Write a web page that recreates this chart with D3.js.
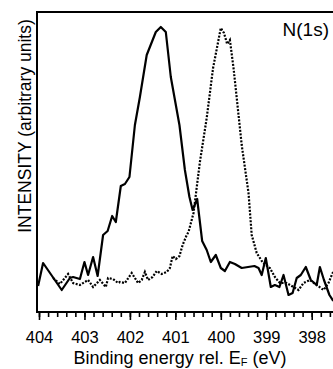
<!DOCTYPE html>
<html>
<head>
<meta charset="utf-8">
<script src="https://cdn.jsdelivr.net/npm/d3@7"></script>
<style>
  body { margin: 0; background: #fff; }
  text { font-family: "Liberation Sans", Arial, sans-serif; fill: #000; }
</style>
</head>
<body>
<svg id="chart" width="333" height="369"></svg>
<script>
// binding energy (eV) and intensity (arbitrary units)
var solidE = [404.02, 403.91, 403.50, 403.32, 403.25, 403.10, 403.00, 402.92, 402.81, 402.71,
  402.59, 402.49, 402.39, 402.31, 402.20, 402.11, 402.01, 401.89, 401.78, 401.63,
  401.43, 401.32, 401.21, 401.10, 400.91, 400.79, 400.69, 400.62, 400.52, 400.41,
  400.31, 400.22, 400.11, 400.00, 399.91, 399.80, 399.69, 399.54, 399.40, 399.26,
  399.17, 399.10, 399.01, 398.90, 398.81, 398.71, 398.62, 398.51, 398.42, 398.33,
  398.24, 398.13, 398.02, 397.89, 397.82, 397.73, 397.61, 397.54, 397.38];
var solidI = [26, 49, 22, 34, 35, 33, 50, 37, 55, 36,
  77, 81, 96, 90, 126, 128, 135, 187, 215, 257,
  280, 285, 280, 235, 187, 142, 115, 102, 113, 71,
  62, 50, 57, 44, 41, 50, 48, 44, 45, 46,
  44, 37, 54, 25, 27, 25, 37, 17, 19, 34,
  37, 45, 32, 27, 45, 32, 17, 12, 7];

var dotE = [403.69, 403.54, 403.36, 403.25, 403.10, 402.92, 402.81, 402.66, 402.53, 402.48,
  402.37, 402.26, 402.22, 402.11, 401.96, 401.82, 401.74, 401.67, 401.60, 401.50,
  401.41, 401.30, 401.19, 401.12, 401.06, 400.99, 400.91, 400.84, 400.75, 400.71,
  400.60, 400.46, 400.31, 400.17, 400.00, 399.93, 399.86, 399.80, 399.72, 399.64,
  399.54, 399.39, 399.32, 399.21, 399.07, 398.92, 398.81, 398.70, 398.55, 398.40,
  398.29, 398.18, 398.04, 397.89, 397.74, 397.63, 397.54, 397.38];
var dotI = [34, 28, 38, 29, 27, 32, 25, 32, 25, 34,
  33, 29, 30, 29, 39, 29, 32, 40, 32, 35,
  41, 38, 40, 44, 56, 53, 56, 67, 77, 80,
  99, 150, 194, 244, 284, 279, 268, 272, 244, 210,
  167, 119, 77, 59, 49, 44, 35, 29, 29, 25,
  22, 29, 32, 27, 22, 29, 39, 47];

var majorTicks = [404, 403, 402, 401, 400, 399, 398];
var minorTicks = d3.range(0, 34).map(function(i) { return +(404 - i * 0.2).toFixed(1); });

var svg = d3.select("#chart");

var x = d3.scaleLinear().domain([404, 398]).range([39, 311.7]);
var y = d3.scaleLinear().domain([0, 300]).range([312, 12]);

var solid = solidE.map(function(e, i) { return [e, solidI[i]]; });
var dotted = dotE.map(function(e, i) { return [e, dotI[i]]; });

var line = d3.line()
  .x(function(d) { return x(d[0]); })
  .y(function(d) { return y(d[1]); });

svg.append("path")
  .datum(dotted)
  .attr("d", line)
  .attr("fill", "none")
  .attr("stroke", "#000")
  .attr("stroke-width", 2.2)
  .attr("stroke-dasharray", "2,1.5");

svg.append("path")
  .datum(solid)
  .attr("d", line)
  .attr("fill", "none")
  .attr("stroke", "#000")
  .attr("stroke-width", 2.2)
  .attr("stroke-linejoin", "round");

// frame (right side runs off the picture)
svg.append("rect")
  .attr("x", 37)
  .attr("y", 12)
  .attr("width", 320)
  .attr("height", 300)
  .attr("fill", "none")
  .attr("stroke", "#000")
  .attr("stroke-width", 2);

var minorAxis = svg.append("g")
  .attr("transform", "translate(0,312)")
  .call(d3.axisBottom(x).tickValues(minorTicks).tickSize(5).tickFormat(""));

var majorAxis = svg.append("g")
  .attr("transform", "translate(0,312)")
  .call(d3.axisBottom(x).tickValues(majorTicks).tickSize(8).tickPadding(11.6).tickFormat(d3.format("d")));

svg.selectAll(".domain").remove();
svg.selectAll(".tick line").attr("stroke", "#000").attr("stroke-width", 1.6);
majorAxis.selectAll("text")
  .attr("font-size", 16.5)
  .attr("font-family", "Liberation Sans, Arial, sans-serif");

// titles
var xt = svg.append("text")
  .attr("x", 180)
  .attr("y", 364)
  .attr("text-anchor", "middle")
  .attr("font-size", 18);
xt.append("tspan").text("Binding energy rel. E");
xt.append("tspan").attr("font-size", 11).attr("dy", 2).text("F");
xt.append("tspan").attr("dy", -2).text(" (eV)");

svg.append("text")
  .attr("transform", "translate(31,126) rotate(-90)")
  .attr("text-anchor", "middle")
  .attr("font-size", 17.5)
  .text("INTENSITY (arbitrary units)");

svg.append("text")
  .attr("x", 329)
  .attr("y", 36)
  .attr("text-anchor", "end")
  .attr("font-size", 19)
  .text("N(1s)");
</script>
</body>
</html>
